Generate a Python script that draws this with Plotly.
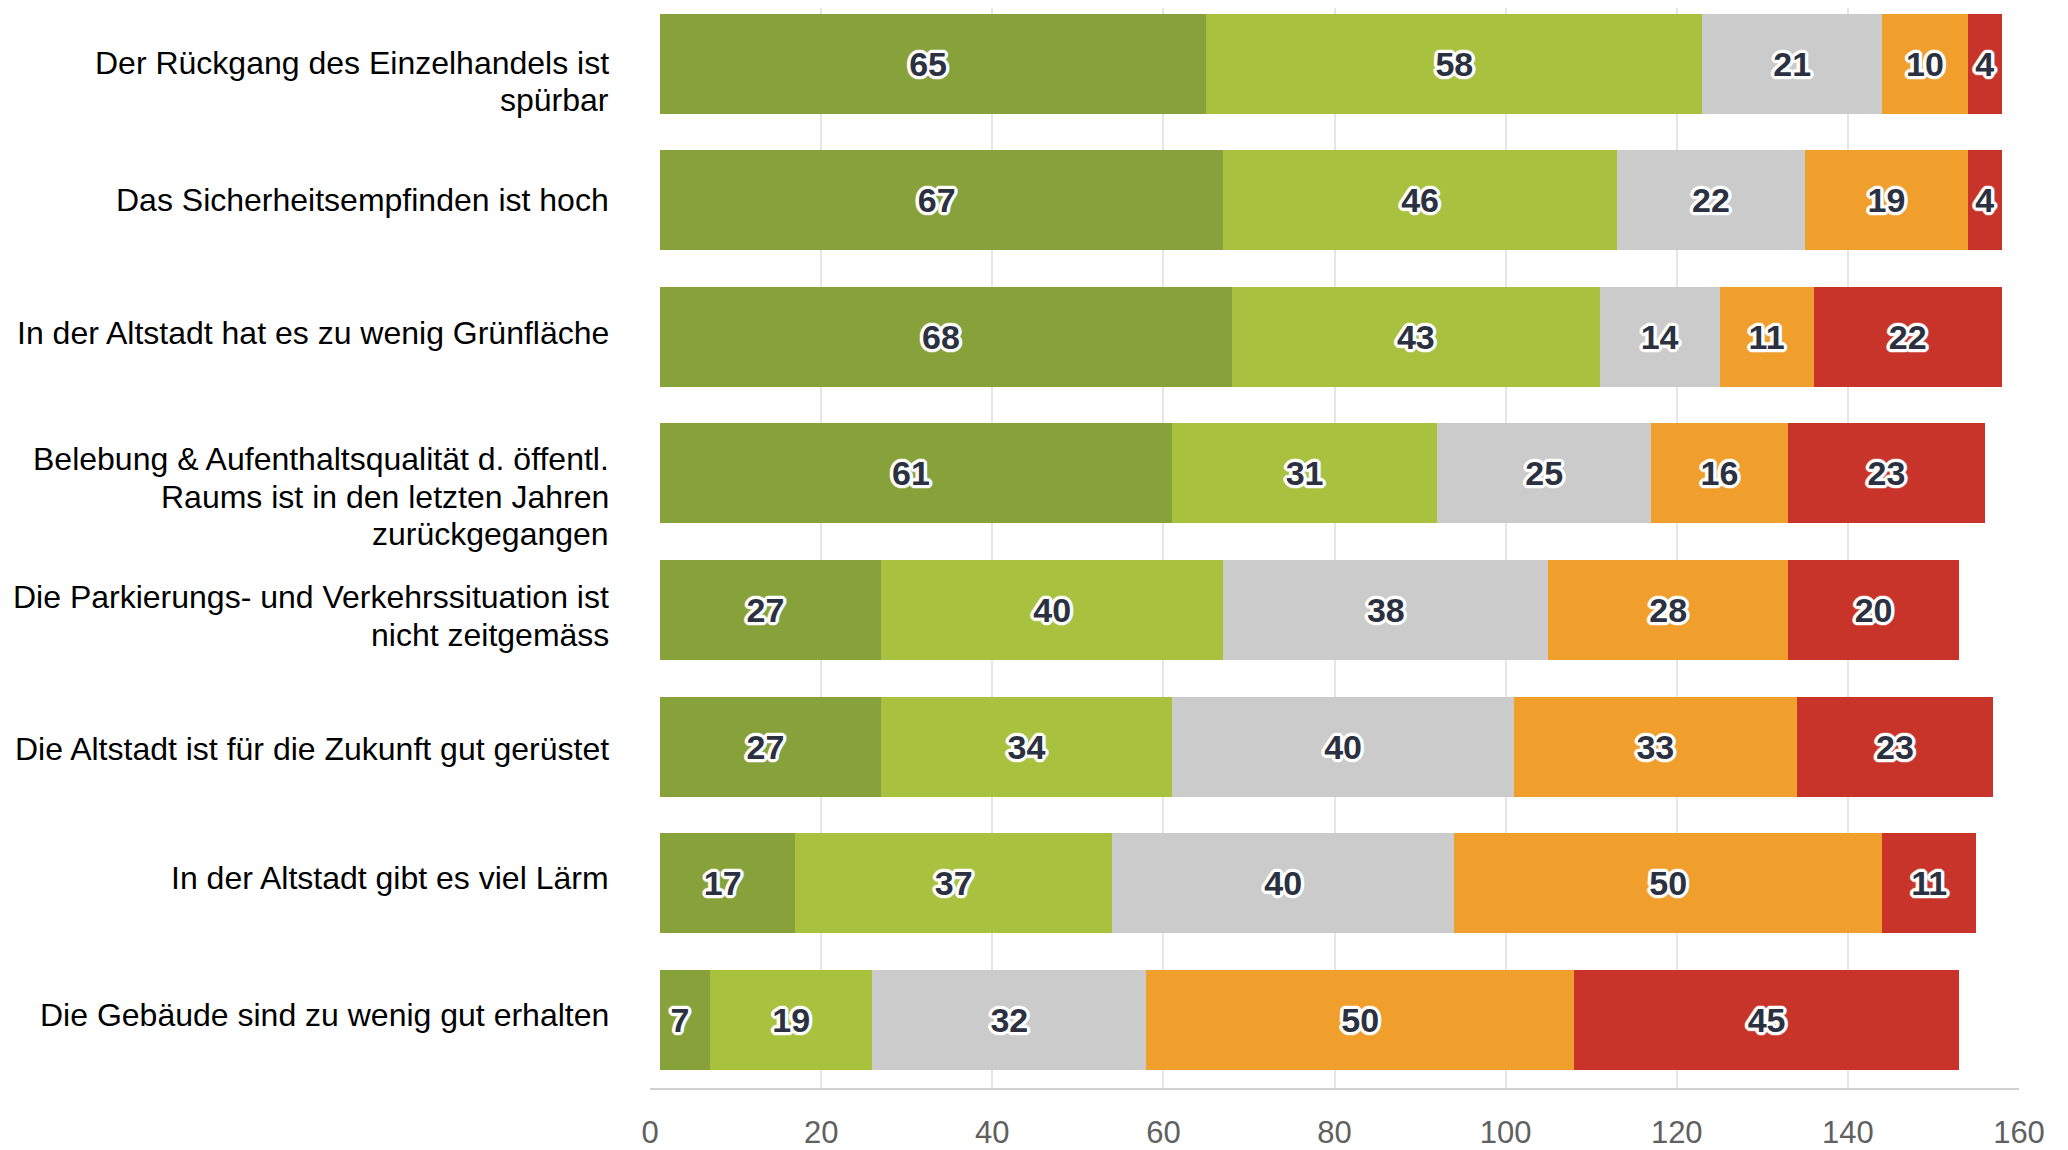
import plotly.graph_objects as go

categories = [
    "Der Rückgang des Einzelhandels ist<br>spürbar",
    "Das Sicherheitsempfinden ist hoch",
    "In der Altstadt hat es zu wenig Grünfläche",
    "Belebung & Aufenthaltsqualität d. öffentl.<br>Raums ist in den letzten Jahren<br>zurückgegangen",
    "Die Parkierungs- und Verkehrssituation ist<br>nicht zeitgemäss",
    "Die Altstadt ist für die Zukunft gut gerüstet",
    "In der Altstadt gibt es viel Lärm",
    "Die Gebäude sind zu wenig gut erhalten",
]

series_names = ["trifft voll zu", "trifft eher zu", "weder noch", "trifft eher nicht zu", "trifft gar nicht zu"]
s1 = [65, 67, 68, 61, 27, 27, 17, 7]
s2 = [58, 46, 43, 31, 40, 34, 37, 19]
s3 = [21, 22, 14, 25, 38, 40, 40, 32]
s4 = [10, 19, 11, 16, 28, 33, 50, 50]
s5 = [4, 4, 22, 23, 20, 23, 11, 45]
series_values = [s1, s2, s3, s4, s5]
colors = ["#87a13b", "#a8c23f", "#cbcbcb", "#f09f2d", "#c8332a"]

x_ticks = [0, 20, 40, 60, 80, 100, 120, 140, 160]

# label layout styling (pixel offsets of the first line, line spacing)
label_first_shift = [-1, 0, -4, -14, -13, 2, -5, -5]
label_line_gap = 37.5
FONT = "Liberation Sans, Arial, sans-serif"

outline = ", ".join(
    f"{dx}px {dy}px 1px #ffffff"
    for dx in (-3, -2, -1, 0, 1, 2, 3) for dy in (-3, -2, -1, 0, 1, 2, 3)
    if (dx, dy) != (0, 0) and dx * dx + dy * dy <= 10
)

fig = go.Figure()
for name, vals, col in zip(series_names, series_values, colors):
    fig.add_trace(go.Bar(
        y=categories, x=vals, name=name, orientation="h",
        marker=dict(color=col, line=dict(width=0)),
        text=[str(v) for v in vals],
        textposition="inside",
        insidetextanchor="middle",
        textangle=0,
        constraintext="none",
        textfont=dict(family=FONT, size=34, color="#2b3140", weight="bold", shadow=outline),
        hovertemplate="%{y}<br>" + name + ": %{x}<extra></extra>",
    ))

# category labels as right-aligned text next to the bars
for k, cat in enumerate(categories):
    for i, line in enumerate(cat.split("<br>")):
        fig.add_annotation(
            x=0, xref="paper", y=cat, yref="y",
            text=line, showarrow=False,
            xanchor="right", yanchor="middle", align="right",
            xshift=-39, yshift=-(label_first_shift[k] + i * label_line_gap),
            font=dict(family=FONT, size=32, color="#000000"),
        )

# the bars' first few pixels are hidden behind the axis start in the original
fig.add_shape(type="rect", xref="paper", yref="paper", x0=0, x1=10 / 1369,
              y0=0.004, y1=1, fillcolor="white", line=dict(width=0), layer="above")

fig.update_layout(
    barmode="stack",
    bargap=0.268,
    width=2068, height=1150,
    margin=dict(l=642, r=57, t=0, b=70),
    paper_bgcolor="white",
    plot_bgcolor="white",
    showlegend=False,
    font=dict(family=FONT),
)
fig.update_xaxes(
    range=[0, 160],
    tickvals=x_ticks,
    ticktext=[str(t) for t in x_ticks],
    showgrid=True, gridcolor="#e6e6e6", gridwidth=1.5,
    showline=True, linecolor="#d0d0d0", linewidth=2,
    zeroline=False,
    ticks="",
    ticklabelstandoff=16,
    tickfont=dict(family=FONT, size=31, color="#606060"),
)
fig.update_yaxes(
    type="category",
    categoryorder="array", categoryarray=categories,
    range=[7.5, -0.408],
    showgrid=False, showline=False, zeroline=False,
    showticklabels=False,
    ticks="",
)

fig.write_html("out.html")
